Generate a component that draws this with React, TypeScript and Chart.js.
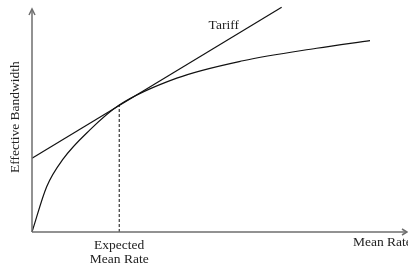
import React, { useEffect, useRef } from "react";
import { Chart, registerables } from "chart.js";

Chart.register(...registerables);

const curveX = [0, 0.39, 0.83, 1.54, 2.32, 3.85, 5.61, 7.57, 8.99];
const curveY = [0, 1.95, 3.15, 4.4, 5.47, 6.63, 7.38, 7.92, 8.25];
const tariffX = [0, 6.64];
const tariffY = [3.18, 9.69];
const expectedRate = 2.32;
const expectedBandwidth = 5.47;
const tariffLabel = "Tariff";
const xTitle = "Mean Rate";
const yTitle = "Effective Bandwidth";
const expectedLabel = ["Expected", "Mean Rate"];

const FONT = '13.5px "Liberation Serif", "Times New Roman", serif';

const decorPlugin = {
  id: "decor",
  afterDatasetsDraw(chart: any) {
    const { ctx, chartArea, scales } = chart;
    const x0 = chartArea.left;
    const y0 = chartArea.bottom;
    ctx.save();
    ctx.strokeStyle = "#6e6e6e";
    ctx.lineWidth = 1.5;
    // y axis
    ctx.beginPath();
    ctx.moveTo(x0, y0);
    ctx.lineTo(x0, chartArea.top + 10);
    ctx.stroke();
    ctx.beginPath();
    ctx.moveTo(x0 - 3, chartArea.top + 15);
    ctx.lineTo(x0, chartArea.top + 9);
    ctx.lineTo(x0 + 3, chartArea.top + 15);
    ctx.stroke();
    // x axis
    ctx.beginPath();
    ctx.moveTo(x0, y0);
    ctx.lineTo(chartArea.right - 1, y0);
    ctx.stroke();
    ctx.beginPath();
    ctx.moveTo(chartArea.right - 6, y0 - 3);
    ctx.lineTo(chartArea.right - 1, y0);
    ctx.lineTo(chartArea.right - 6, y0 + 3);
    ctx.stroke();

    ctx.fillStyle = "#222";
    ctx.font = FONT;
    ctx.textAlign = "center";
    ctx.textBaseline = "middle";
    // Tariff label
    ctx.fillText(tariffLabel, scales.x.getPixelForValue(5.1), 25);
    // expected mean rate
    const ex = scales.x.getPixelForValue(expectedRate);
    ctx.fillText(expectedLabel[0], ex, y0 + 13);
    ctx.fillText(expectedLabel[1], ex, y0 + 27);
    // x title
    ctx.textAlign = "left";
    ctx.fillText(xTitle, chartArea.right - 55, y0 + 10);
    // y title
    ctx.save();
    ctx.translate(15, scales.y.getPixelForValue(4.95));
    ctx.rotate(-Math.PI / 2);
    ctx.textAlign = "center";
    ctx.fillText(yTitle, 0, 0);
    ctx.restore();
    ctx.restore();
  },
};

export default function App() {
  const ref = useRef<HTMLCanvasElement>(null);
  useEffect(() => {
    document.body.style.margin = "0";
    const chart = new Chart(ref.current!, {
      type: "scatter",
      data: {
        datasets: [
          {
            data: curveX.map((x, i) => ({ x, y: curveY[i] })),
            showLine: true,
            borderColor: "#111",
            borderWidth: 1.2,
            pointRadius: 0,
            cubicInterpolationMode: "monotone",
            clip: false,
          } as any,
          {
            data: tariffX.map((x, i) => ({ x, y: tariffY[i] })),
            showLine: true,
            borderColor: "#111",
            borderWidth: 1.2,
            pointRadius: 0,
            clip: false,
          },
          {
            data: [
              { x: expectedRate, y: 0 },
              { x: expectedRate, y: expectedBandwidth },
            ],
            showLine: true,
            borderColor: "#111",
            borderWidth: 1,
            borderDash: [3, 2],
            pointRadius: 0,
          },
        ],
      },
      options: {
        animation: false,
        responsive: false,
        layout: { padding: { left: 32, right: 0, top: 0, bottom: 35 } },
        plugins: { legend: { display: false }, tooltip: { enabled: false } },
        scales: {
          x: { type: "linear", min: 0, max: 10, display: false },
          y: { type: "linear", min: 0, max: 10, display: false },
        },
      },
      plugins: [decorPlugin],
    });
    return () => chart.destroy();
  }, []);
  return <canvas ref={ref} width={408} height={267} style={{ display: "block" }} />;
}
